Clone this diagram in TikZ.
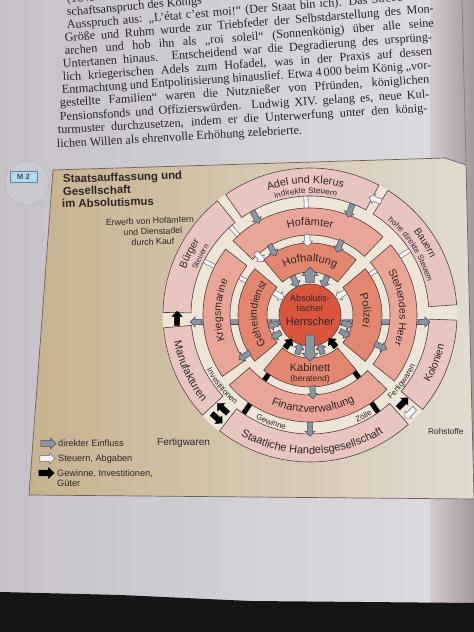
\documentclass[tikz,border=0pt]{standalone}
\usepackage{fontspec}
\setmainfont{Liberation Sans}
\newfontfamily\paraserif{Liberation Serif}
\usetikzlibrary{shapes.arrows,decorations.text}
\definecolor{pageL}{HTML}{C6C1C8}
\definecolor{pageR}{HTML}{DEDCE2}
\definecolor{gutterL}{HTML}{D3CACE}
\definecolor{gutterR}{HTML}{A3979E}
\definecolor{panelL}{HTML}{C6B28E}
\definecolor{panelR}{HTML}{E2DBD1}
\definecolor{panelLine}{HTML}{6E6258}
\definecolor{cream}{HTML}{EDE6D8}
\definecolor{ringA}{HTML}{E2866F}
\definecolor{ringB}{HTML}{E9A698}
\definecolor{ringC}{HTML}{E8C5C0}
\definecolor{redc}{HTML}{D9553D}
\definecolor{ringline}{HTML}{4F3E40}
\definecolor{txt}{HTML}{2E2628}
\definecolor{paratxt}{HTML}{2A2329}
\definecolor{gfill}{HTML}{8D94A0}
\definecolor{gline}{HTML}{474B55}
\definecolor{wfill}{HTML}{F3F2F4}
\definecolor{wline}{HTML}{6A6C76}
\definecolor{mfill}{HTML}{BBD6E6}
\definecolor{mline}{HTML}{4A8CB4}
\definecolor{mtext}{HTML}{2D4B6A}
\definecolor{mcirc}{HTML}{CCC8CF}
\definecolor{mcircline}{HTML}{B9B4BD}
\definecolor{nightblack}{HTML}{151515}

\newcommand\fsz[1]{\fontsize{#1}{#1}\selectfont}
\newcommand\ringSeg[5]{\filldraw[fill=#5,draw=ringline,line width=0.6pt] (#1:#3pt) arc[start angle=#1,end angle=#2,radius=#3pt] -- (#2:#4pt) arc[start angle=#2,end angle=#1,radius=#4pt] -- cycle;}
\newcommand\cwText[4]{\path[decorate,decoration={text along path,text align=center,text={|\fsz{#3}\color{txt}|#4}}] ({#1+80}:#2pt) arc[start angle={#1+80},end angle={#1-80},radius=#2pt];}
\newcommand\ccwText[4]{\path[decorate,decoration={text along path,text align=center,text={|\fsz{#3}\color{txt}|#4}}] ({#1-80}:#2pt) arc[start angle={#1-80},end angle={#1+80},radius=#2pt];}
\newcommand\arrAt[5]{\node[#1,minimum height=#5pt,rotate=#4] at (#2:#3pt) {};}
\newcommand\radBar[4]{\draw[#1] (#2:#3pt) -- (#2:#4pt);}
\newcommand\plineJ[4]{\node[anchor=base west,rotate=#3,inner sep=0pt,text=paratxt,font={\paraserif\fsz{12.2}}] at (#1,#2) {\hbox to 370pt{#4}};}
\newcommand\plineN[4]{\node[anchor=base west,rotate=#3,inner sep=0pt,text=paratxt,font={\paraserif\fsz{12.2}}] at (#1,#2) {#4};}

\tikzset{
 arrbase/.style={single arrow,inner xsep=0pt,inner ysep=2.4pt,outer sep=0pt,minimum width=0pt,single arrow head extend=2.4pt,line width=0.5pt},
 gA/.style={arrbase,draw=gline,fill=gfill},
 gBig/.style={arrbase,draw=gline,fill=gfill,inner ysep=4.2pt,single arrow head extend=3.6pt},
 wA/.style={arrbase,draw=wline,fill=wfill},
 bA/.style={arrbase,draw=black,fill=black},
 wbar/.style={draw=wline,double=wfill,double distance=3.4pt,line width=0.6pt},
 bbar/.style={draw=black,line width=5pt},
 gband/.style={draw=gline,double=gfill,double distance=5pt,line width=0.5pt},
 lbl/.style={text=txt,inner sep=0pt},
}

\begin{document}
\begin{tikzpicture}[x=1pt,y=1pt]
\useasboundingbox (0,0) rectangle (474,632);
% page
\shade[left color=pageL,right color=pageR] (0,0) rectangle (474,632);
\shade[left color=gutterL,right color=gutterR] (430,0) rectangle (474,632);
\draw[gutterR!80!black,line width=0.6pt] (462,632) -- (466,470);
% paragraph
\plineN{67}{629}{5.0}{(1643–1715)}
\plineN{67}{616}{5.0}{schaftsanspruch des Königs}
\plineJ{67}{603}{4.8}{Ausspruch aus: „L’état c’est moi!“ (Der Staat bin ich). Das Streben nach}
\plineJ{65}{590}{4.6}{Größe und Ruhm wurde zur Triebfeder der Selbstdarstellung des Mon-}
\plineJ{65}{577}{4.4}{archen und hob ihn als „roi soleil“ (Sonnenkönig) über alle seine}
\plineJ{63}{564}{4.2}{Untertanen hinaus. Entscheidend war die Degradierung des ursprüng-}
\plineJ{63}{551}{4.0}{lich kriegerischen Adels zum Hofadel, was in der Praxis auf dessen}
\plineJ{62}{538}{3.9}{Entmachtung und Entpolitisierung hinauslief. Etwa 4\,000 beim König „vor-}
\plineJ{60}{525}{3.7}{gestellte Familien“ waren die Nutznießer von Pfründen, königlichen}
\plineJ{60}{511}{3.6}{Pensionsfonds und Offizierswürden. Ludwig XIV. gelang es, neue Kul-}
\plineJ{58}{498}{3.4}{turmuster durchzusetzen, indem er die Unterwerfung unter den könig-}
\plineN{57}{484}{3.3}{lichen Willen als ehrenvolle Erhöhung zelebrierte.}
% M2 marker
\fill[mcirc] (27,449) circle[radius=22pt];
\draw[mcircline,line width=0.5pt] (27,449) circle[radius=22pt];
\node[draw=mline,fill=mfill,font=\bfseries\fsz{7.5},text=mtext,minimum width=27pt,minimum height=11pt,inner sep=0pt,line width=0.6pt] (m2) at (23.5,455) {M 2};
% panel
\shadedraw[left color=panelL,right color=panelR,draw=panelLine,line width=0.7pt] (53,462) -- (445,474) -- (466,467) -- (474,133) -- (29,137) -- cycle;
% black bottom
\fill[nightblack] (0,0) -- (0,40) -- (120,37) -- (250,31) -- (474,29) -- (474,0) -- cycle;
% title
\node[lbl,anchor=base west,font=\bfseries\fsz{11.4},rotate=1.8] (t1) at (63,449) {Staatsauffassung und};
\node[lbl,anchor=base west,font=\bfseries\fsz{11.4},rotate=1.8] (t2) at (63,436.5) {Gesellschaft};
\node[lbl,anchor=base west,font=\bfseries\fsz{11.4},rotate=1.8] (t3) at (62,424) {im Absolutismus};
\node[lbl,anchor=base,font=\fsz{8.8},rotate=2] (e1) at (150,408) {Erwerb von Hofämtern};
\node[lbl,anchor=base,font=\fsz{8.8},rotate=2] (e2) at (153,397.5) {und Dienstadel};
\node[lbl,anchor=base,font=\fsz{8.8},rotate=2] (e3) at (153,387) {durch Kauf};
% legend
\node[gA,minimum height=15pt,inner ysep=2.6pt] (lg1) at (47,188.5) {};
\node[lbl,anchor=base west,font=\fsz{9.2}] at (58,185) {direkter Einfluss};
\node[wA,minimum height=15pt,inner ysep=2.6pt] (lg2) at (46,173.5) {};
\node[lbl,anchor=base west,font=\fsz{9.2}] at (58,170) {Steuern, Abgaben};
\node[bA,minimum height=15pt,inner ysep=2.6pt] (lg3) at (45,159) {};
\node[lbl,anchor=base west,font=\fsz{9.2}] at (57,155.5) {Gewinne, Investitionen,};
\node[lbl,anchor=base west,font=\fsz{9.2}] at (57,145) {Güter};
\node[lbl,anchor=base west,font=\fsz{10}] (fw) at (157,186) {Fertigwaren};
\node[lbl,anchor=base west,font=\fsz{8.3}] (rs) at (428,197) {Rohstoffe};
% diagram
\begin{scope}[shift={(310,317)}]
\fill[cream] (0,0) circle[radius=147.5pt];
% connectors under rings
\draw[gband] (-112,-7) -- (112,-7);
\radBar{wbar}{92}{100}{126}
\radBar{wbar}{33}{100}{126}
\radBar{wbar}{132}{100}{126}
\radBar{wbar}{153}{100}{126}
\radBar{wbar}{152}{66}{86}
\radBar{wbar}{34}{66}{86}
\radBar{bbar}{235}{66}{86}
\radBar{bbar}{308}{66}{86}
\radBar{bbar}{236}{100}{126}
\radBar{bbar}{305}{100}{126}
% rings
\filldraw[fill=redc,draw=ringline,line width=0.6pt] (0,0) circle[radius=31pt];
\ringSeg{50}{130}{43}{72}{ringA}
\ringSeg{140}{220}{43}{72}{ringA}
\ringSeg{230}{310}{43}{72}{ringA}
\ringSeg{-40}{40}{43}{72}{ringA}
\ringSeg{47}{136}{80}{107}{ringB}
\ringSeg{142}{215}{80}{107}{ringB}
\ringSeg{221}{316}{80}{107}{ringB}
\ringSeg{-38}{41}{80}{107}{ringB}
\ringSeg{62}{125}{119}{147}{ringC}
\ringSeg{129}{179}{119}{147}{ringC}
\ringSeg{185}{223}{119}{147}{ringC}
\ringSeg{232}{312}{119}{147}{ringC}
\ringSeg{320}{358}{119}{147}{ringC}
\ringSeg{4}{58}{119}{147}{ringC}
% gray arrows
\arrAt{gA}{119}{113}{299}{14}
\arrAt{gA}{69}{113}{249}{14}
\arrAt{gA}{120}{76}{300}{13}
\arrAt{gA}{67}{76}{247}{13}
\arrAt{gA}{114}{38}{294}{12}
\arrAt{gA}{66}{38}{246}{12}
\arrAt{gBig}{90}{38}{90}{15}
\arrAt{gA}{195}{37}{195}{11}
\arrAt{gA}{211}{38}{211}{11}
\arrAt{gA}{-14}{37}{-14}{11}
\arrAt{gA}{-28}{38}{-28}{11}
\arrAt{gBig}{270}{31}{270}{26}
\arrAt{gA}{252}{37}{72}{11}
\arrAt{gA}{288}{37}{108}{11}
\arrAt{gA}{212}{76}{212}{13}
\arrAt{gA}{-24}{76}{-24}{13}
\arrAt{gA}{272}{76}{272}{13}
\arrAt{gA}{270}{113}{270}{14}
\node[gA,minimum height=11pt,rotate=180] (bandL) at (-113,-7) {};
\node[gA,minimum height=11pt] (bandR) at (113,-7) {};
% white arrows
\arrAt{wA}{60}{133}{160}{13}
\arrAt{wA}{92}{76}{272}{12}
\arrAt{wA}{131}{78}{311}{12}
\arrAt{wA}{148}{38}{328}{12}
\arrAt{wA}{33}{38}{213}{12}
% black arrows
\arrAt{bA}{233}{37}{53}{11}
\arrAt{bA}{309}{37}{129}{11}
\arrAt{bA}{182}{133}{90}{14}
\arrAt{bA}{227.5}{128}{137.5}{14}
\arrAt{bA}{227.5}{139}{317.5}{14}
\arrAt{bA}{316}{128}{46}{14}
\arrAt{wA}{316}{140}{226}{14}
% texts
\cwText{92}{131.5}{10.8}{Adel und Klerus}
\cwText{92}{121.5}{8.2}{indirekte Steuern}
\cwText{32}{133}{10}{Bauern}
\cwText{33}{122}{8}{hohe direkte Steuern}
\cwText{153}{132.5}{10.5}{Bürger}
\cwText{152}{122}{7.5}{Steuern}
\ccwText{205}{138.5}{11}{Manufakturen}
\ccwText{271}{139}{11}{Staatliche Handelsgesellschaft}
\ccwText{339}{137.5}{10.5}{Kolonien}
\cwText{90}{89.5}{11}{Hofämter}
\cwText{5}{89.5}{10.5}{Stehendes Heer}
\ccwText{272}{97.5}{11}{Finanzverwaltung}
\cwText{177}{89}{10.5}{Kriegsmarine}
\cwText{90}{53.5}{11}{Hofhaltung}
\cwText{5}{53.5}{11}{Polizei}
\cwText{179}{53}{10.5}{Geheimdienst}
\ccwText{219}{117}{8}{Investitionen}
\ccwText{250}{117}{8}{Gewinne}
\ccwText{298}{117}{8}{Zölle}
\ccwText{324}{117}{8}{Fertigwaren}
\node[lbl,font=\fsz{11}] (kab) at (0,-53) {Kabinett};
\node[lbl,font=\fsz{8.5}] (ber) at (0,-64.5) {(beratend)};
\node[lbl,font=\fsz{9}] (h1) at (0,17) {Absolutis-};
\node[lbl,font=\fsz{9}] (h2) at (0,7) {tischer};
\node[lbl,font=\fsz{11}] (h3) at (0,-7) {Herrscher};
\end{scope}
\end{tikzpicture}
\end{document}
